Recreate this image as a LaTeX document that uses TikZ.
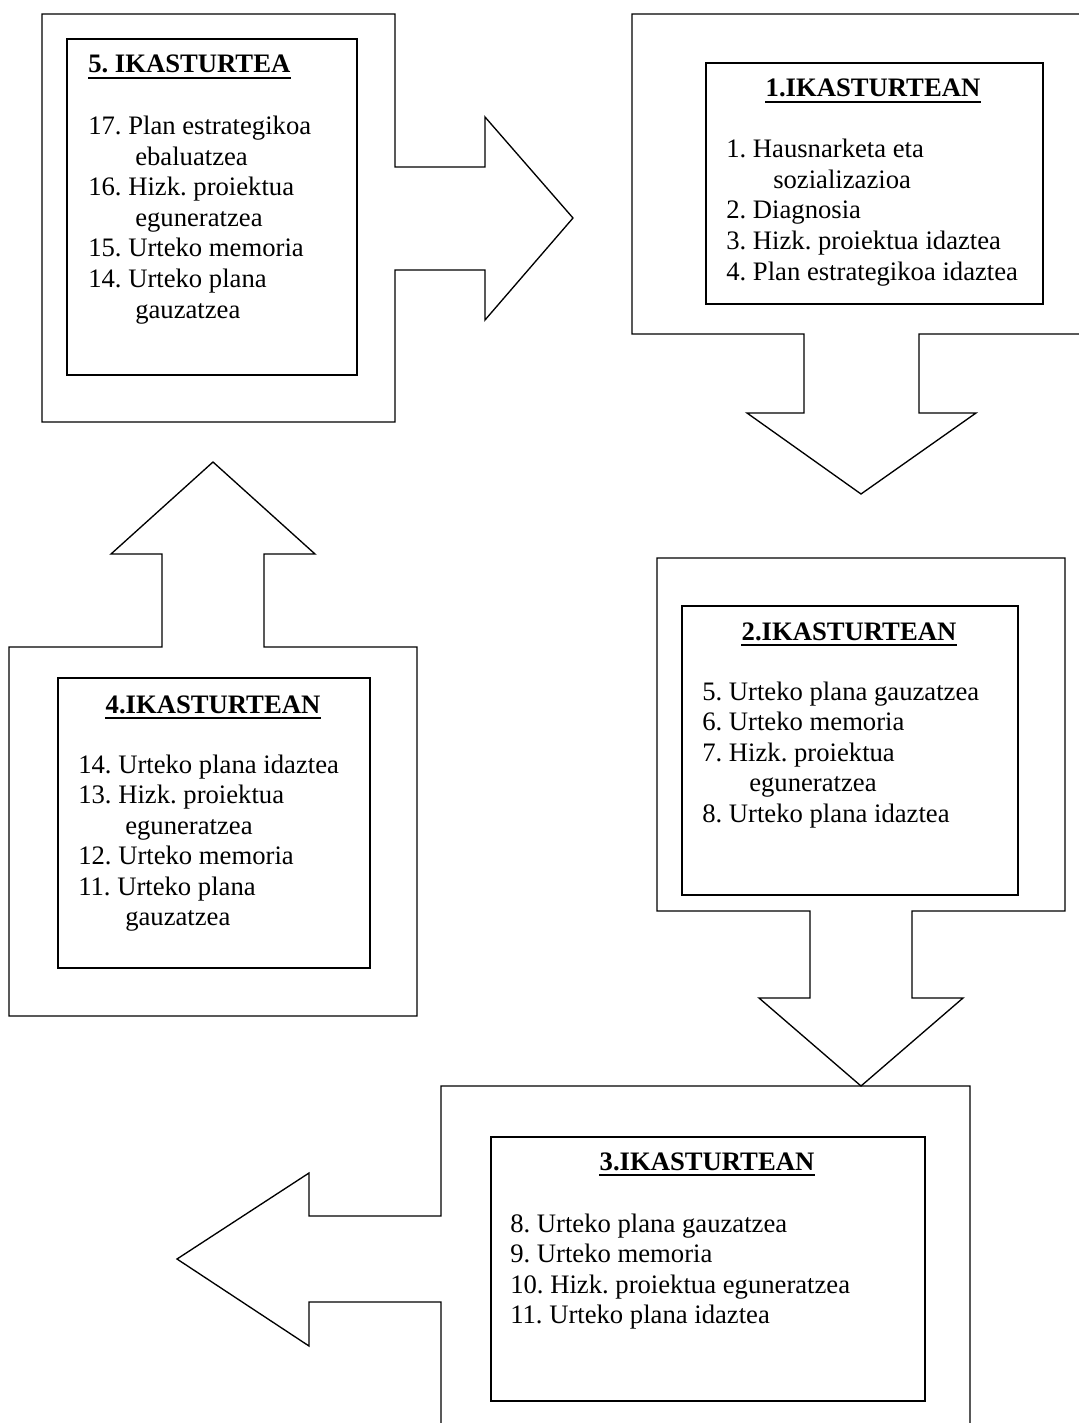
\documentclass[tikz,border=0pt]{standalone}
\usepackage{fontspec}
\setmainfont{Liberation Serif}
\frenchspacing
\begin{document}
\frenchspacing
\begin{tikzpicture}[x=0.75pt,y=-0.75pt,line join=miter,
  outline/.style={draw,line width=1pt},
  inbox/.style={draw,line width=1.3pt,inner sep=0pt,anchor=north west},
  txt/.style={anchor=base west,inner sep=0pt,font=\fontsize{20pt}{23pt}\selectfont\frenchspacing},
  ttl/.style={anchor=base,inner sep=0pt,font=\fontsize{20pt}{23pt}\selectfont\bfseries\frenchspacing},
  uline/.style={line width=1.4pt}]
\useasboundingbox (0,0) rectangle (1078,1423);

% ---------- outer callout shapes ----------
\draw[outline] (42,14) -- (395,14) -- (395,167) -- (485,167) -- (485,117) -- (573,218)
  -- (485,320) -- (485,270) -- (395,270) -- (395,422) -- (42,422) -- cycle;
\draw[outline] (632,14) -- (1095,14) -- (1095,334) -- (919,334) -- (919,413) -- (976,413)
  -- (861,494) -- (747,413) -- (804,413) -- (804,334) -- (632,334) -- cycle;
\draw[outline] (657,558) -- (1065,558) -- (1065,911) -- (912,911) -- (912,998) -- (963,998)
  -- (861,1086) -- (759,998) -- (810,998) -- (810,911) -- (657,911) -- cycle;
\draw[outline] (441,1086) -- (970,1086) -- (970,1440) -- (441,1440) -- (441,1302) -- (309,1302)
  -- (309,1346) -- (177,1259) -- (309,1173) -- (309,1216) -- (441,1216) -- cycle;
\draw[outline] (9,647) -- (162,647) -- (162,554) -- (111,554) -- (213,462) -- (315,554)
  -- (264,554) -- (264,647) -- (417,647) -- (417,1016) -- (9,1016) -- cycle;

% ---------- inner boxes ----------
\node[inbox,minimum width=217.5pt,minimum height=252pt] (in5) at (66,38) {};
\node[inbox,minimum width=252.75pt,minimum height=180.75pt] (in1) at (705,62) {};
\node[inbox,minimum width=252pt,minimum height=216.75pt] (in2) at (681,605) {};
\node[inbox,minimum width=325.5pt,minimum height=198pt] (in3) at (490,1136) {};
\node[inbox,minimum width=234pt,minimum height=217.5pt] (in4) at (57,677) {};

% ---------- box 5 ----------
\node[txt,font=\fontsize{20pt}{23pt}\selectfont\bfseries\frenchspacing] (t5) at (88,73) {5. IKASTURTEA};
\draw[uline] ([yshift=-3.75pt]t5.base west) -- ([yshift=-3.75pt]t5.base east);
\node[txt] (a1) at (88,135) {17. Plan estrategikoa};
\node[txt] (a2) at (135,165.5) {ebaluatzea};
\node[txt] (a3) at (88,196) {16. Hizk. proiektua};
\node[txt] (a4) at (135,226.5) {eguneratzea};
\node[txt] (a5) at (88,257) {15. Urteko memoria};
\node[txt] (a6) at (88,287.5) {14. Urteko plana};
\node[txt] (a7) at (135,318) {gauzatzea};

% ---------- box 1 ----------
\node[ttl] (t1) at (873,97) {1.IKASTURTEAN};
\draw[uline] ([yshift=-3.75pt]t1.base west) -- ([yshift=-3.75pt]t1.base east);
\node[txt] (b1) at (726,158) {1. Hausnarketa eta};
\node[txt] (b2) at (773,188.5) {sozializazioa};
\node[txt] (b3) at (726,219) {2. Diagnosia};
\node[txt] (b4) at (726,249.5) {3. Hizk. proiektua idaztea};
\node[txt] (b5) at (726,280) {4. Plan estrategikoa idaztea};

% ---------- box 2 ----------
\node[ttl] (t2) at (849,640) {2.IKASTURTEAN};
\draw[uline] ([yshift=-3.75pt]t2.base west) -- ([yshift=-3.75pt]t2.base east);
\node[txt] (c1) at (702,700) {5. Urteko plana gauzatzea};
\node[txt] (c2) at (702,730.5) {6. Urteko memoria};
\node[txt] (c3) at (702,761) {7. Hizk. proiektua};
\node[txt] (c4) at (749,791.5) {eguneratzea};
\node[txt] (c5) at (702,822) {8. Urteko plana idaztea};

% ---------- box 3 ----------
\node[ttl] (t3) at (707,1170) {3.IKASTURTEAN};
\draw[uline] ([yshift=-3.75pt]t3.base west) -- ([yshift=-3.75pt]t3.base east);
\node[txt] (d1) at (510,1232) {8. Urteko plana gauzatzea};
\node[txt] (d2) at (510,1262.5) {9. Urteko memoria};
\node[txt] (d3) at (510,1293) {10. Hizk. proiektua eguneratzea};
\node[txt] (d4) at (510,1323.5) {11. Urteko plana idaztea};

% ---------- box 4 ----------
\node[ttl] (t4) at (213,713) {4.IKASTURTEAN};
\draw[uline] ([yshift=-3.75pt]t4.base west) -- ([yshift=-3.75pt]t4.base east);
\node[txt] (e1) at (78,773) {14. Urteko plana idaztea};
\node[txt] (e2) at (78,803.5) {13. Hizk. proiektua};
\node[txt] (e3) at (125,834) {eguneratzea};
\node[txt] (e4) at (78,864.5) {12. Urteko memoria};
\node[txt] (e5) at (78,895) {11. Urteko plana};
\node[txt] (e6) at (125,925.5) {gauzatzea};
\end{tikzpicture}
\end{document}
